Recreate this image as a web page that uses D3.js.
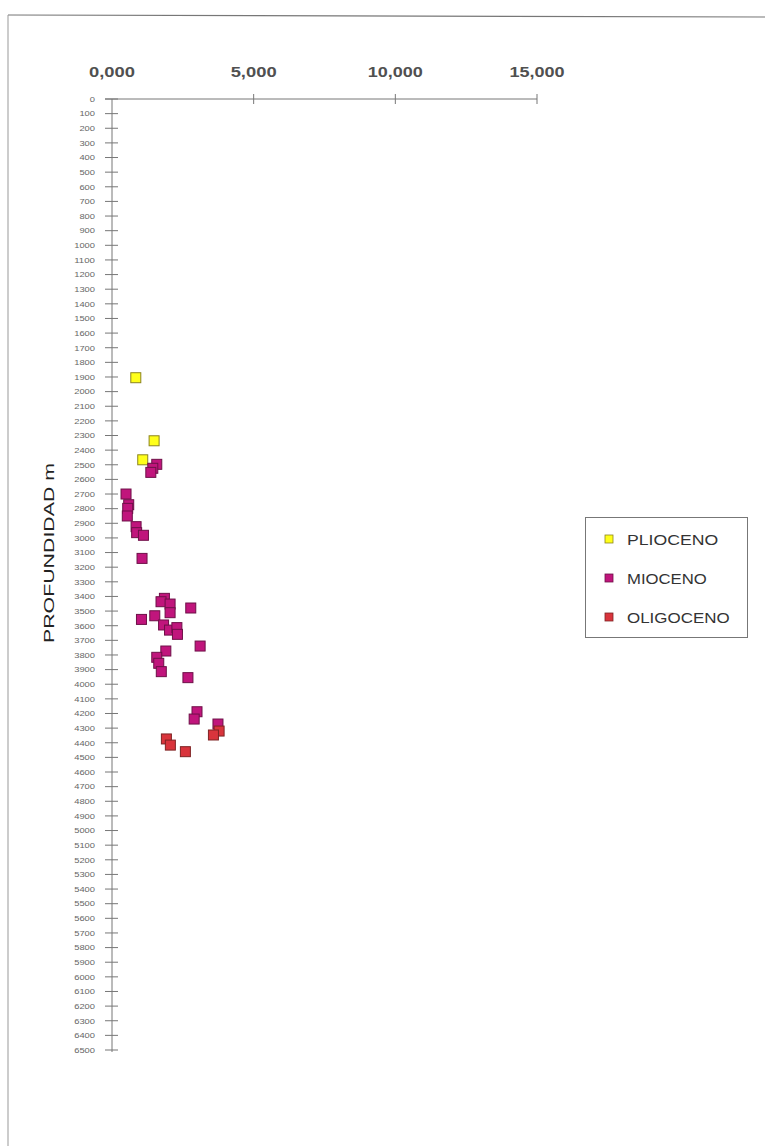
<!DOCTYPE html>
<html><head><meta charset="utf-8">
<script src="https://cdn.jsdelivr.net/npm/d3@7"></script>
<style>body{margin:0;background:#fff;} text{font-family:"Liberation Sans",Arial,sans-serif;}</style>
</head><body>
<svg id="c" width="765" height="1146"></svg>
<script>
// Data: [x value, depth m]
const plioceno = [[840,1905],[1486,2336],[1085,2466]];
const mioceno = [[1580,2497],[1440,2524],[1370,2552],[495,2700],[590,2773],[555,2798],[540,2850],[850,2923],[870,2964],[1110,2982],[1060,3140],
  [1850,3413],[1730,3436],[2050,3452],[2050,3511],[2780,3479],[1040,3557],[1510,3532],[1820,3595],[2030,3630],[2290,3613],[2310,3659],
  [3110,3739],[1900,3773],[1580,3816],[1650,3857],[1740,3914],[2680,3955],[3000,4188],[2900,4238],[3740,4272]];
const oligoceno = [[3780,4320],[3580,4347],[1920,4374],[2060,4416],[2590,4461]];
const seriesNames = ["PLIOCENO","MIOCENO","OLIGOCENO"];
const seriesData = [plioceno, mioceno, oligoceno];
const seriesFill = ["#ffff1a","#c0157c","#d9343c"];
const seriesStroke = ["#8c8420","#6e1048","#7e2424"];
const xTicks = [0,5000,10000,15000];
const xTickLabels = ["0,000","5,000","10,000","15,000"];
const yTicks = d3.range(0,6501,100);

const svg = d3.select("#c");
// page frame
svg.append("line").attr("x1",8).attr("y1",15).attr("x2",765).attr("y2",17).attr("stroke","#777").attr("stroke-width",1.2);
svg.append("line").attr("x1",8).attr("y1",15).attr("x2",8).attr("y2",1146).attr("stroke","#999").attr("stroke-width",1);

const x = d3.scaleLinear().domain([0,15000]).range([112,537]);
const y = d3.scaleLinear().domain([0,6500]).range([99,1050]);

// top axis line
const gx = svg.append("g");
gx.append("line").attr("x1",105).attr("x2",x(15000)).attr("y1",y(0)).attr("y2",y(0)).attr("stroke","#777").attr("stroke-width",1);
gx.selectAll("line.t").data(xTicks.slice(1)).join("line").attr("class","t")
  .attr("x1",d=>x(d)).attr("x2",d=>x(d)).attr("y1",y(0)-5).attr("y2",y(0)+5).attr("stroke","#777");
gx.selectAll("text").data(xTicks).join("text")
  .attr("x",d=>x(d)).attr("y",77).attr("text-anchor","middle")
  .attr("font-size",14.5).attr("font-weight","bold").attr("fill","#505050")
  .attr("textLength",(d,i)=>xTickLabels[i].length*9.2).attr("lengthAdjust","spacingAndGlyphs")
  .text((d,i)=>xTickLabels[i]);

// left axis
const gy = svg.append("g");
gy.append("line").attr("x1",x(0)).attr("x2",x(0)).attr("y1",y(0)).attr("y2",y(6500)+2).attr("stroke","#777");
gy.selectAll("line.t").data(yTicks).join("line").attr("class","t")
  .attr("x1",x(0)-7).attr("x2",x(0)+6).attr("y1",d=>y(d)).attr("y2",d=>y(d)).attr("stroke","#777");
gy.selectAll("text").data(yTicks).join("text")
  .attr("x",95).attr("y",d=>y(d)+2.8).attr("text-anchor","end")
  .attr("font-size",7.5).attr("fill","#666")
  .attr("textLength",d=>String(d).length*5.2).attr("lengthAdjust","spacingAndGlyphs")
  .text(d=>d);

// y title
svg.append("text").attr("transform","translate(54,553) rotate(-90)").attr("text-anchor","middle")
  .attr("font-size",14).attr("fill","#222").attr("textLength",180).attr("lengthAdjust","spacingAndGlyphs")
  .text("PROFUNDIDAD m");

// points
const s = 10;
seriesData.forEach((data,i)=>{
  svg.append("g").selectAll("rect").data(data).join("rect")
    .attr("x",d=>x(d[0])-s/2).attr("y",d=>y(d[1])-s/2).attr("width",s).attr("height",s)
    .attr("fill",seriesFill[i]).attr("stroke",seriesStroke[i]).attr("stroke-width",1);
});

// legend
const lg = svg.append("g");
lg.append("rect").attr("x",585.5).attr("y",517.5).attr("width",162).attr("height",120).attr("fill","none").attr("stroke","#777");
seriesNames.forEach((n,i)=>{
  const cy = 539 + i*39;
  lg.append("rect").attr("x",605).attr("y",cy-4).attr("width",8).attr("height",8)
    .attr("fill",seriesFill[i]).attr("stroke",seriesStroke[i]).attr("stroke-width",0.8);
  lg.append("text").attr("x",627).attr("y",cy+5.5).attr("font-size",14).attr("fill","#333")
    .attr("textLength",n.length*11.4).attr("lengthAdjust","spacingAndGlyphs").text(n);
});
</script>
</body></html>
